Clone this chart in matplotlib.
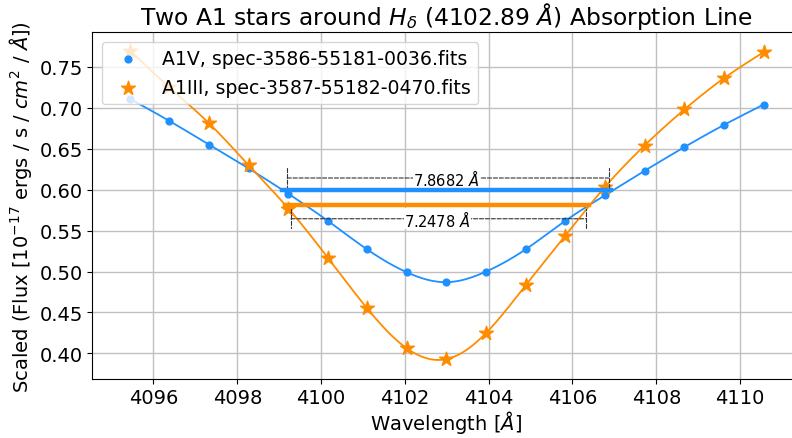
import numpy as np
import matplotlib
matplotlib.use('Agg')
import matplotlib.pyplot as plt

plt.rcParams['font.size'] = 14

# 两颗 A1 星在 H-delta 附近的采样点
wavelength = [4095.44, 4096.38, 4097.33, 4098.27, 4099.22, 4100.16, 4101.10, 4102.05,
              4102.99, 4103.94, 4104.88, 4105.83, 4106.77, 4107.72, 4108.67, 4109.61,
              4110.56]
flux_a1v = [0.711, 0.684, 0.655, 0.626, 0.595, 0.562, 0.527, 0.499,
            0.487, 0.500, 0.527, 0.562, 0.593, 0.623, 0.652, 0.679, 0.704]
flux_a1iii = [0.770, 0.725, 0.681, 0.630, 0.577, 0.517, 0.455, 0.406,
              0.393, 0.425, 0.483, 0.544, 0.603, 0.654, 0.698, 0.736, 0.768]

labels = ['A1V, spec-3586-55181-0036.fits', 'A1III, spec-3587-55182-0470.fits']

# 半高全宽: 半高处的流量, 左端波长, 宽度
half_level = [0.5995, 0.581]
fwhm_left = [4099.06, 4099.15]
fwhm_width = [7.8682, 7.2478]

yticks = [0.40, 0.45, 0.50, 0.55, 0.60, 0.65, 0.70, 0.75]
xticks = [4096, 4098, 4100, 4102, 4104, 4106, 4108, 4110]


def spline(x, y, xs):
    # 自然三次样条
    x = np.asarray(x, float)
    y = np.asarray(y, float)
    n = len(x)
    h = np.diff(x)
    A = np.zeros((n, n))
    rhs = np.zeros(n)
    A[0, 0] = A[-1, -1] = 1
    for i in range(1, n - 1):
        A[i, i - 1] = h[i - 1]
        A[i, i] = 2 * (h[i - 1] + h[i])
        A[i, i + 1] = h[i]
        rhs[i] = 3 * ((y[i + 1] - y[i]) / h[i] - (y[i] - y[i - 1]) / h[i - 1])
    c = np.linalg.solve(A, rhs)
    b = (y[1:] - y[:-1]) / h - h * (2 * c[:-1] + c[1:]) / 3
    d = (c[1:] - c[:-1]) / (3 * h)
    idx = np.clip(np.searchsorted(x, xs) - 1, 0, n - 2)
    dx = xs - x[idx]
    return y[idx] + b[idx] * dx + c[idx] * dx ** 2 + d[idx] * dx ** 3


fig = plt.figure(figsize=(7.92, 4.39), dpi=100)
ax = fig.add_axes([0.1165, 0.1344, 0.8936, 0.7897])

colors = ['dodgerblue', 'darkorange']
markers = ['o', '*']
msizes = [24, 110]
xs = np.linspace(wavelength[0], wavelength[-1], 500)

for k, fl in enumerate([flux_a1v, flux_a1iii]):
    ax.plot(xs, spline(wavelength, fl, xs), color=colors[k], lw=1.3)
    ax.scatter(wavelength, fl, color=colors[k], marker=markers[k], s=msizes[k],
               label=labels[k], zorder=3)

# 半高全宽的粗线和标注
dash_offset = [0.0148, -0.0165]
for k in range(2):
    x1 = fwhm_left[k]
    x2 = fwhm_left[k] + fwhm_width[k]
    ax.plot([x1, x2], [half_level[k], half_level[k]], color=colors[k], lw=3.2, zorder=4)
    yd = half_level[k] + dash_offset[k]
    ax.annotate('', xy=(x2, yd), xytext=(x1, yd),
                arrowprops=dict(arrowstyle='|-|, widthA=0.5, widthB=0.5', ls='--',
                                lw=0.8, color='#333333', shrinkA=4, shrinkB=2))
    ax.text((x1 + x2) / 2, yd, '%.4f $\\AA$' % fwhm_width[k], fontsize=10.5,
            ha='center', va='center',
            bbox=dict(facecolor='white', edgecolor='none', pad=0.3))

ax.set_xlim(4094.54, 4111.43)
ax.set_ylim(0.3687, 0.7923)
ax.set_xticks(xticks)
ax.set_yticks(yticks)
ax.set_yticklabels(['%.2f' % v for v in yticks])
ax.tick_params(pad=3)
ax.grid(True, lw=1, color='#c0c0c0')
ax.set_axisbelow(True)

ax.set_title('Two A1 stars around $H_\\delta$ (4102.89 $\\AA$) Absorption Line')
ax.set_xlabel('Wavelength [$\\AA$]', labelpad=1)
ax.set_ylabel('Scaled (Flux [$10^{-17}$ ergs / s / $cm^2$ / $\\AA$])')
ax.legend(loc='upper left', fontsize=13.6)

fig.savefig('out.png', dpi=100)
